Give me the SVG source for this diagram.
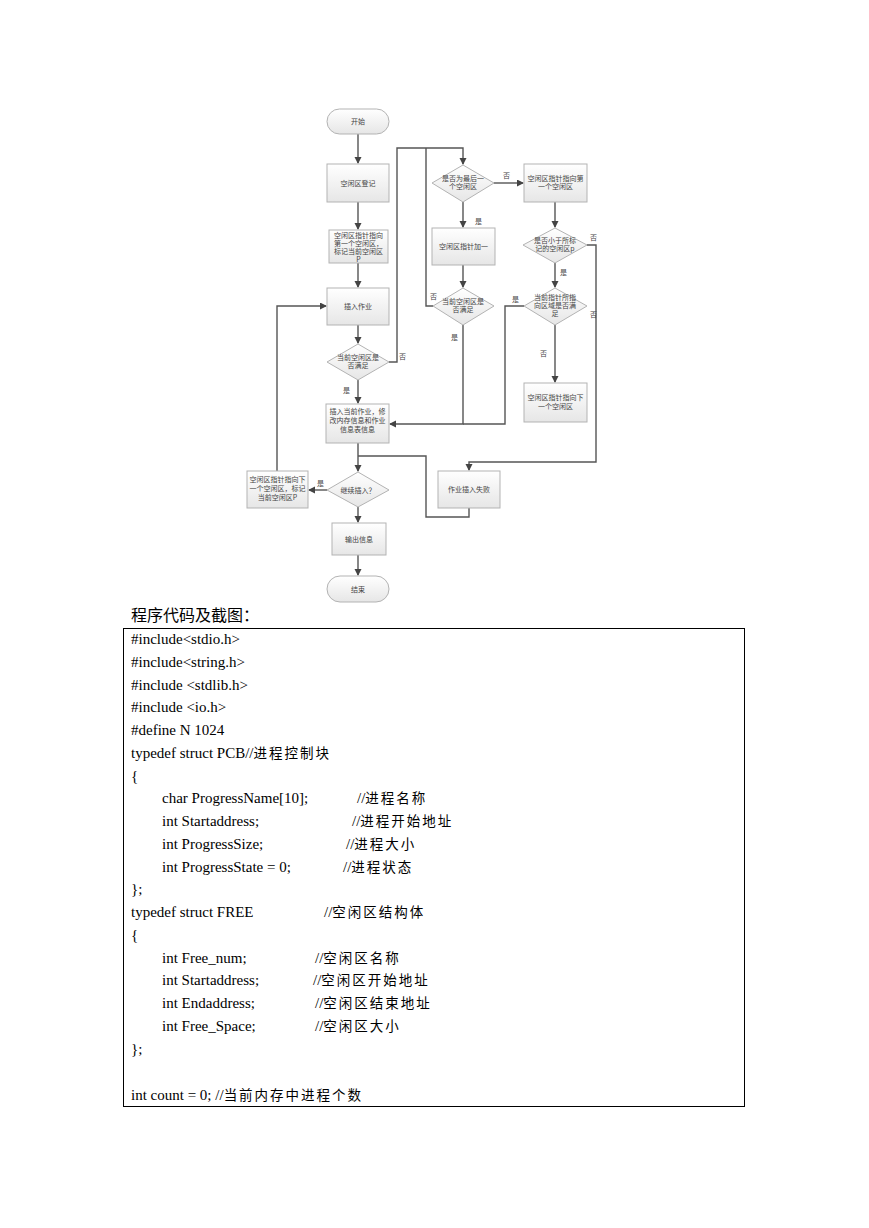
<svg xmlns="http://www.w3.org/2000/svg" width="869" height="1228" viewBox="0 0 869 1228">
<defs>
<linearGradient id="g" x1="0" y1="0" x2="0" y2="1">
<stop offset="0" stop-color="#ffffff"/>
<stop offset="1" stop-color="#e6e6e6"/>
</linearGradient>
<marker id="ah" markerWidth="8" markerHeight="8" refX="6" refY="3.5" orient="auto" markerUnits="userSpaceOnUse">
<path d="M0,0 L7,3.5 L0,7 Z" fill="#444"/>
</marker>
</defs>
<style>
.box{fill:url(#g);stroke:#b3b3b3;stroke-width:1}
.t{font-family:"Noto Sans CJK SC","Liberation Serif",serif;font-size:7px;fill:#444;text-anchor:middle}
.lb{font-family:"Noto Sans CJK SC",serif;font-size:7px;fill:#444}
.c{fill:none;stroke:#555;stroke-width:1.4}
.a{marker-end:url(#ah)}
.code{font-family:"Liberation Serif","Noto Sans CJK SC",serif;font-size:15px;fill:#000}
.cn{font-family:"Noto Sans CJK SC",sans-serif;font-size:13.5px;letter-spacing:2px}
</style>
<rect width="869" height="1228" fill="#fff"/>

<g id="connectors">
<path class="c a" d="M358,134 V163"/>
<path class="c a" d="M358,202 V229"/>
<path class="c a" d="M358,263 V287"/>
<path class="c a" d="M358,325 V343"/>
<path class="c a" d="M358,380 V403"/>
<path class="c a" d="M389,362 H397 V148 H463 V164"/>
<path class="c a" d="M494,183 H523"/>
<path class="c a" d="M463,202 V227"/>
<path class="c a" d="M463,265 V287"/>
<path class="c" d="M433,306 H426 V148"/>
<path class="c a" d="M463,325 V424 H390"/>
<path class="c a" d="M555,202 V227"/>
<path class="c a" d="M587,245 H596 V462 H469 V470"/>
<path class="c a" d="M555,263 V287"/>
<path class="c" d="M524,306 H505 V424 H463"/>
<path class="c a" d="M555,325 V382"/>
<path class="c a" d="M358,443 V471"/>
<path class="c" d="M358,456 H426 V517 H469 V508"/>
<path class="c a" d="M327,490 H309"/>
<path class="c a" d="M277,471 V306 H326"/>
<path class="c a" d="M358,507 V522"/>
<path class="c a" d="M358,555 V575"/>
<text class="lb" x="343" y="393">是</text>
<text class="lb" x="399" y="359">否</text>
<text class="lb" x="503" y="178">否</text>
<text class="lb" x="475" y="224">是</text>
<text class="lb" x="430" y="299">否</text>
<text class="lb" x="451" y="340">是</text>
<text class="lb" x="590" y="240">否</text>
<text class="lb" x="560" y="275">是</text>
<text class="lb" x="512" y="302">是</text>
<text class="lb" x="590" y="317">否</text>
<text class="lb" x="540" y="356">否</text>
<text class="lb" x="317" y="486">是</text>
</g>

<g id="start">
<rect class="box" x="327" y="109" width="62" height="25" rx="12.5"/>
<text class="t" x="358" y="124">开始</text>
</g>
<g id="register">
<rect class="box" x="327" y="164" width="62" height="38"/>
<text class="t" x="358" y="185.5">空闲区登记</text>
</g>
<g id="pointFirst">
<rect class="box" x="329" y="230" width="59" height="33"/>
<text class="t" x="358.5" y="238">空闲区指针指向</text>
<text class="t" x="358.5" y="246">第一个空闲区，</text>
<text class="t" x="358.5" y="254">标记当前空闲区</text>
<text class="t" x="358.5" y="262">P</text>
</g>
<g id="insertJob">
<rect class="box" x="327" y="288" width="62" height="37"/>
<text class="t" x="358" y="309">插入作业</text>
</g>
<g id="fitLeft">
<polygon class="box" points="358,344 389,362 358,380 327,362"/>
<text class="t" x="358" y="360">当前空闲区是</text>
<text class="t" x="358" y="368">否满足</text>
</g>
<g id="insertCurrent">
<rect class="box" x="326" y="404" width="63" height="39"/>
<text class="t" x="357.5" y="414">插入当前作业，修</text>
<text class="t" x="357.5" y="423">改内存信息和作业</text>
<text class="t" x="357.5" y="432">信息表信息</text>
</g>
<g id="continue">
<polygon class="box" points="358,472 389,490 358,507 327,490"/>
<text class="t" x="358" y="492.5">继续插入？</text>
</g>
<g id="nextMark">
<rect class="box" x="247" y="471" width="61" height="37"/>
<text class="t" x="277.5" y="482">空闲区指针指向下</text>
<text class="t" x="277.5" y="491">一个空闲区，标记</text>
<text class="t" x="277.5" y="500">当前空闲区P</text>
</g>
<g id="output">
<rect class="box" x="332" y="523" width="54" height="32"/>
<text class="t" x="359" y="541.5">输出信息</text>
</g>
<g id="end">
<rect class="box" x="327" y="576" width="62" height="26" rx="13"/>
<text class="t" x="358" y="591.5">结束</text>
</g>
<g id="isLast">
<polygon class="box" points="463,165 494,183 463,202 432,183"/>
<text class="t" x="463" y="181">是否为最后一</text>
<text class="t" x="463" y="189">个空闲区</text>
</g>
<g id="pointFirst2">
<rect class="box" x="524" y="164" width="63" height="38"/>
<text class="t" x="555.5" y="181">空闲区指针指向第</text>
<text class="t" x="555.5" y="189">一个空闲区</text>
</g>
<g id="plusOne">
<rect class="box" x="432" y="228" width="63" height="37"/>
<text class="t" x="463.5" y="249">空闲区指针加一</text>
</g>
<g id="fitRight">
<polygon class="box" points="463,288 494,306 463,325 433,306"/>
<text class="t" x="463" y="304">当前空闲区是</text>
<text class="t" x="463" y="312">否满足</text>
</g>
<g id="lessThan">
<polygon class="box" points="555,228 587,245 555,263 523,245"/>
<text class="t" x="555" y="243">是否小于所标</text>
<text class="t" x="555" y="251">记的空闲区p</text>
</g>
<g id="areaFit">
<polygon class="box" points="555,288 587,306 555,325 524,306"/>
<text class="t" x="555" y="300">当前指针所指</text>
<text class="t" x="555" y="308">向区域是否满</text>
<text class="t" x="555" y="316">足</text>
</g>
<g id="pointNext">
<rect class="box" x="524" y="383" width="63" height="39"/>
<text class="t" x="555.5" y="400">空闲区指针指向下</text>
<text class="t" x="555.5" y="409">一个空闲区</text>
</g>
<g id="fail">
<rect class="box" x="438" y="471" width="62" height="37"/>
<text class="t" x="469" y="492">作业插入失败</text>
</g>

<g id="codeSection">
<text x="131" y="621" style="font-family:'Noto Sans CJK SC',serif;font-size:16px;fill:#000">程序代码及截图：</text>
<rect x="123.5" y="628.5" width="621" height="478" fill="none" stroke="#000" stroke-width="1"/>
<g class="code">
<text x="131" y="644">#include&lt;stdio.h&gt;</text>
<text x="131" y="667">#include&lt;string.h&gt;</text>
<text x="131" y="690">#include &lt;stdlib.h&gt;</text>
<text x="131" y="712">#include &lt;io.h&gt;</text>
<text x="131" y="735">#define N 1024</text>
<text x="131" y="758">typedef struct PCB//<tspan class="cn">进程控制块</tspan></text>
<text x="131" y="781">{</text>
<text x="162" y="803">char ProgressName[10];</text>
<text x="357" y="803">//<tspan class="cn">进程名称</tspan></text>
<text x="162" y="826">int Startaddress;</text>
<text x="352" y="826">//<tspan class="cn">进程开始地址</tspan></text>
<text x="162" y="849">int ProgressSize;</text>
<text x="346" y="849">//<tspan class="cn">进程大小</tspan></text>
<text x="162" y="872">int ProgressState = 0;</text>
<text x="343" y="872">//<tspan class="cn">进程状态</tspan></text>
<text x="131" y="894">};</text>
<text x="131" y="917">typedef struct FREE</text>
<text x="324" y="917">//<tspan class="cn">空闲区结构体</tspan></text>
<text x="131" y="940">{</text>
<text x="162" y="963">int Free_num;</text>
<text x="315" y="963">//<tspan class="cn">空闲区名称</tspan></text>
<text x="162" y="985">int Startaddress;</text>
<text x="313" y="985">//<tspan class="cn">空闲区开始地址</tspan></text>
<text x="162" y="1008">int Endaddress;</text>
<text x="315" y="1008">//<tspan class="cn">空闲区结束地址</tspan></text>
<text x="162" y="1031">int Free_Space;</text>
<text x="315" y="1031">//<tspan class="cn">空闲区大小</tspan></text>
<text x="131" y="1054">};</text>
<text x="131" y="1100">int count = 0; //<tspan class="cn">当前内存中进程个数</tspan></text>
</g>
</g>
</svg>
